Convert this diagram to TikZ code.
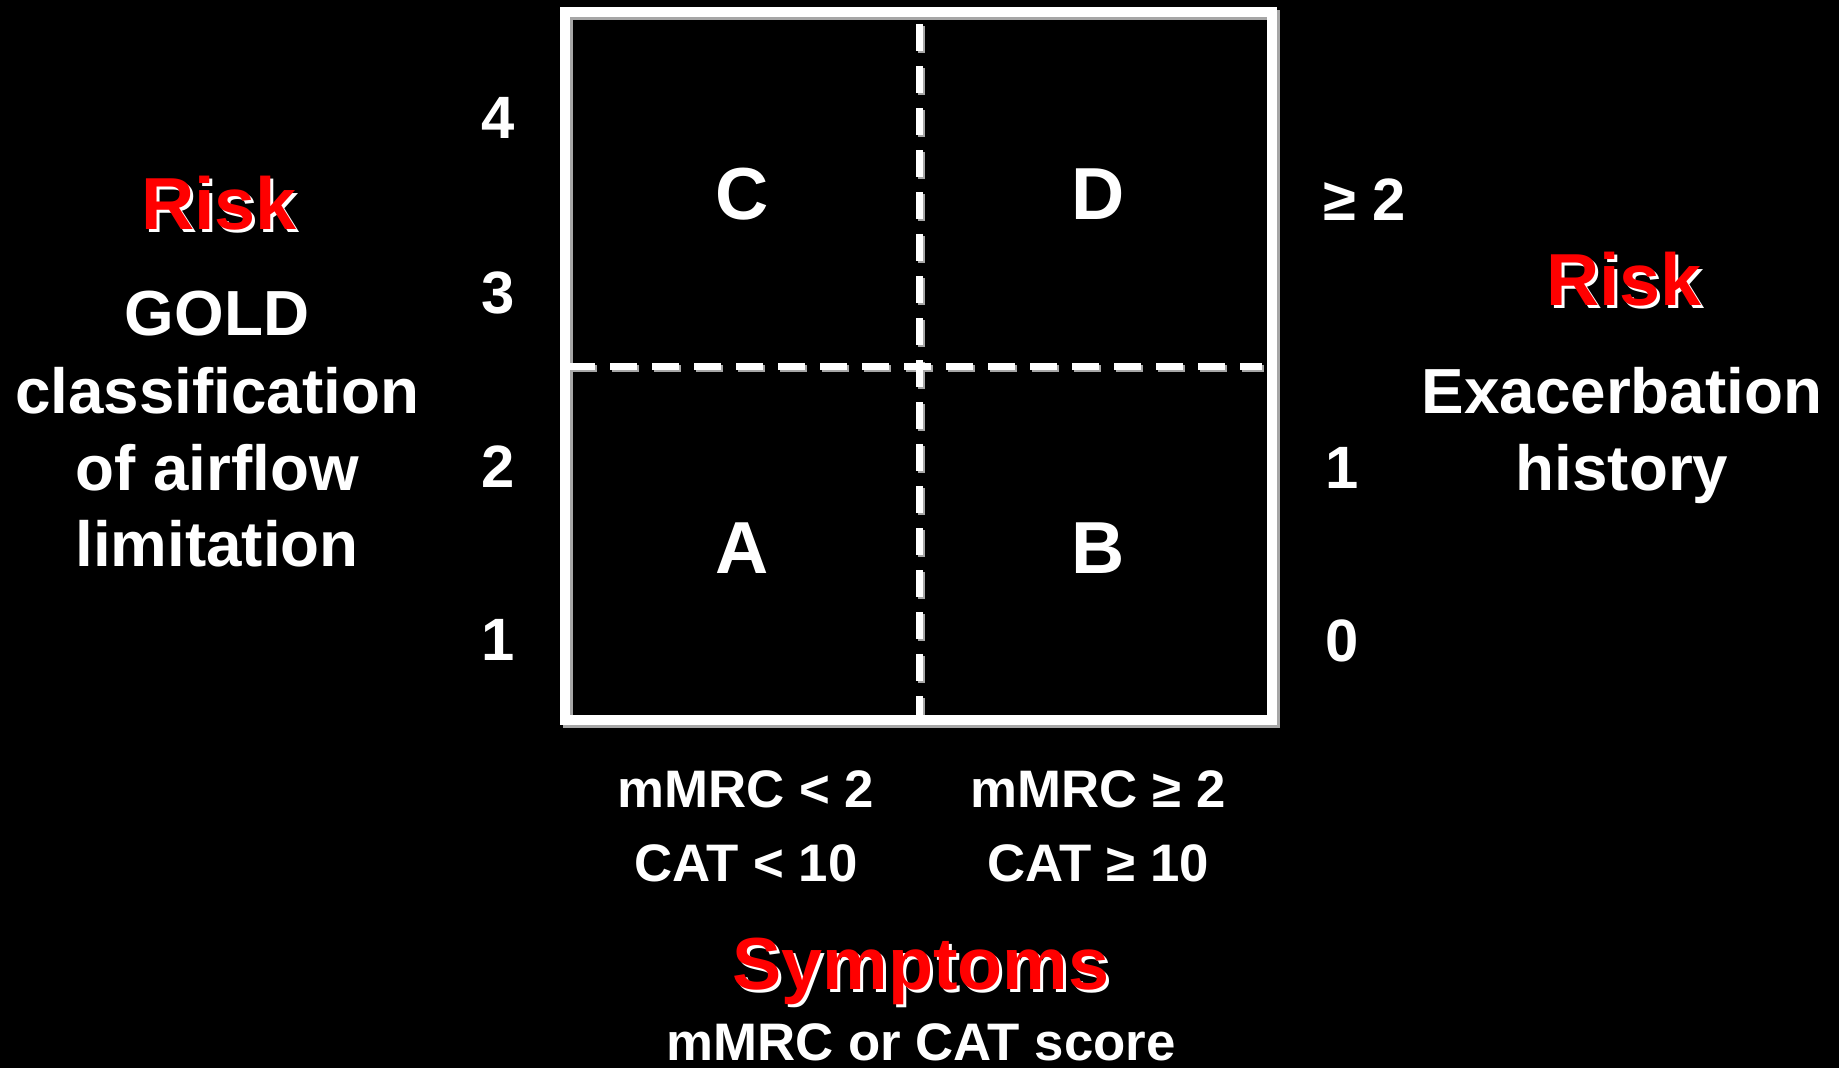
\documentclass[tikz,border=0pt]{standalone}
\usepackage{fontspec}
\setmainfont{Liberation Sans}
\begin{document}
\begin{tikzpicture}[x=1bp,y=-1bp,
  lbl/.style={text=white,font=\bfseries\fontsize{64}{77}\selectfont,anchor=base,inner sep=0pt},
  num/.style={text=white,font=\bfseries\fontsize{60}{70}\selectfont,anchor=base,inner sep=0pt},
  quad/.style={text=white,font=\bfseries\fontsize{74}{80}\selectfont,anchor=base,inner sep=0pt},
  small/.style={text=white,font=\bfseries\fontsize{53}{60}\selectfont,anchor=base,inner sep=0pt},
  redt/.style={text=red,font=\bfseries\fontsize{74}{80}\selectfont,anchor=base,inner sep=0pt},
  redshadow/.style={text=white,font=\bfseries\fontsize{74}{80}\selectfont,anchor=base,inner sep=0pt},
  boxline/.style={white,line width=10.5bp},
  boxshadow/.style={gray!70,line width=10.5bp},
  dashline/.style={white,line width=7bp,dash pattern=on 27bp off 15bp},
  dashshadow/.style={gray!70,line width=7bp,dash pattern=on 27bp off 15bp}]
\fill[black] (0,0) rectangle (1839,1068);
\useasboundingbox (0,0) rectangle (1839,1068);
% grid coordinates
\coordinate (tl) at (565,12);
\coordinate (br) at (1272,720);
\coordinate (vt) at (919,24);
\coordinate (vb) at (919,718);
\coordinate (hl) at (568,366);
\coordinate (hr) at (1262,366);
% shadows
\draw[boxshadow] ([shift={(3,3)}]tl) rectangle ([shift={(3,3)}]br);
\draw[dashshadow] ([shift={(2,2)}]vt) -- ([shift={(2,2)}]vb);
\draw[dashshadow] ([shift={(2,2)}]hl) -- ([shift={(2,2)}]hr);
% box and dashed lines
\draw[boxline] (tl) rectangle (br);
\draw[dashline] (vt) -- (vb);
\draw[dashline] (hl) -- (hr);
% quadrant letters
\node[quad] (qC) at (742,219) {C};
\node[quad] (qD) at (1098,219) {D};
\node[quad] (qA) at (742,573) {A};
\node[quad] (qB) at (1098,573) {B};
% left axis numbers
\node[num] (l4) at (498,138) {4};
\node[num] (l3) at (498,313) {3};
\node[num] (l2) at (498,487) {2};
\node[num] (l1) at (498,660) {1};
% right axis numbers
\node[num,anchor=base west] (r2) at (1323,220) {≥ 2};
\node[num,anchor=base west] (r1) at (1325,488) {1};
\node[num,anchor=base west] (r0) at (1325,661) {0};
% left title
\node[redshadow] (lrisks) at (222,232) {Risk};
\node[redt] (lrisk) at (219,229) {Risk};
\node[lbl] (gold1) at (217,335) {GOLD};
\node[lbl] (gold2) at (217,413) {classification};
\node[lbl] (gold3) at (217,490) {of airflow};
\node[lbl] (gold4) at (217,566) {limitation};
% right title
\node[redshadow] (rrisks) at (1627,308) {Risk};
\node[redt] (rrisk) at (1624,305) {Risk};
\node[lbl] (exa1) at (1622,413) {Exacerbation};
\node[lbl] (exa2) at (1622,490) {history};
% bottom labels
\node[small] (b1) at (746,807) {mMRC < 2};
\node[small] (b2) at (746,881) {CAT < 10};
\node[small] (b3) at (1098,807) {mMRC ≥ 2};
\node[small] (b4) at (1098,881) {CAT ≥ 10};
\node[redshadow] (symps) at (924,992) {Symptoms};
\node[redt] (symp) at (921,989) {Symptoms};
\node[small] (score) at (921,1060) {mMRC or CAT score};
\end{tikzpicture}
\end{document}
